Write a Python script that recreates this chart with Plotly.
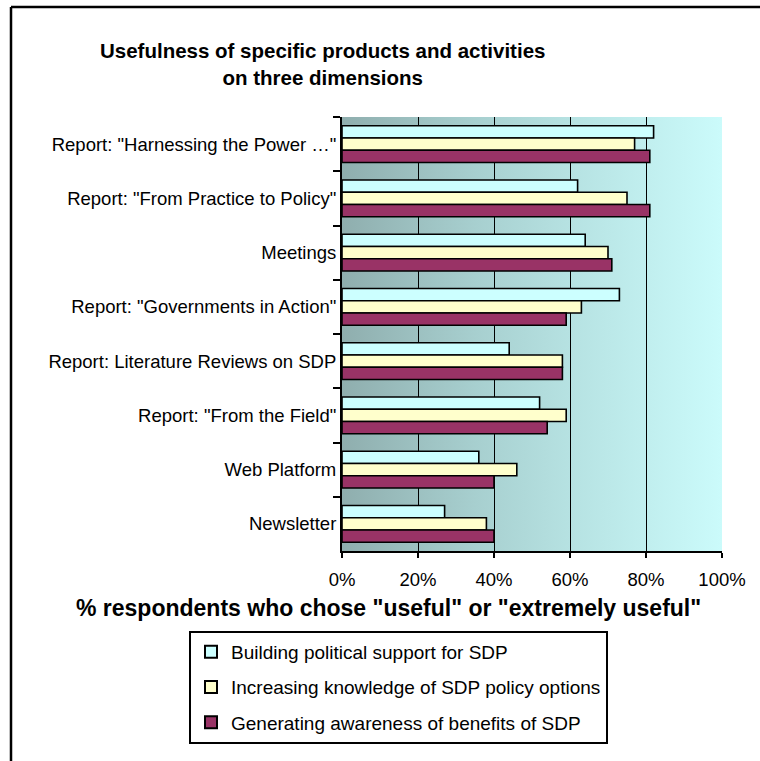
import base64
import plotly.graph_objects as go

# Survey items, listed top to bottom
items = [
    'Report: "Harnessing the Power …"',
    'Report: "From Practice to Policy"',
    "Meetings",
    'Report: "Governments in Action"',
    "Report: Literature Reviews on SDP",
    'Report: "From the Field"',
    "Web Platform",
    "Newsletter",
]

# % of respondents rating each item "useful" or "extremely useful"
political_support = [82, 62, 64, 73, 44, 52, 36, 27]
policy_knowledge = [77, 75, 70, 63, 58, 59, 46, 38]
benefit_awareness = [81, 81, 71, 59, 58, 54, 40, 40]

series_names = [
    "Building political support for SDP",
    "Increasing knowledge of SDP policy options",
    "Generating awareness of benefits of SDP",
]
series_values = [political_support, policy_knowledge, benefit_awareness]
series_colors = ["#CCFFFF", "#FFFFCC", "#993366"]

x_ticks = [0, 20, 40, 60, 80, 100]
x_tick_text = ["0%", "20%", "40%", "60%", "80%", "100%"]

FONT = "Liberation Sans, Arial, Helvetica, sans-serif"

fig = go.Figure()
for i, (name, vals, col) in enumerate(zip(series_names, series_values, series_colors)):
    fig.add_trace(go.Bar(
        y=items, x=vals, name=name, orientation="h",
        marker=dict(color=col, line=dict(color="black", width=1.6)),
        legendgroup=f"g{i}",
    ))

# horizontal gradient behind the bars
svg = (
    '<svg xmlns="http://www.w3.org/2000/svg" width="380" height="434" '
    'preserveAspectRatio="none"><defs><linearGradient id="g" x1="0" y1="0" x2="1" y2="0">'
    '<stop offset="0" stop-color="#8FAEAE"/>'
    '<stop offset="0.35" stop-color="#A7CFCF"/>'
    '<stop offset="0.6" stop-color="#B6E2E2"/>'
    '<stop offset="1" stop-color="#CBFBFB"/>'
    '</linearGradient></defs><rect width="380" height="434" fill="url(#g)"/></svg>'
)
bg_src = "data:image/svg+xml;base64," + base64.b64encode(svg.encode()).decode()

L, R, T, B = 342, 38, 117, 210
W, H = 760, 761
pw, ph = W - L - R, H - T - B


def px(x):
    return (x - L) / pw


def py(y):
    return (H - B - y) / ph


fig.update_layout(
    width=W, height=H,
    margin=dict(l=L, r=R, t=T, b=B),
    paper_bgcolor="white",
    plot_bgcolor="rgba(0,0,0,0)",
    barmode="group",
    bargap=0.32,
    bargroupgap=0,
    font=dict(family=FONT, color="black", size=18),
    showlegend=True,
    legend=dict(
        x=px(189), y=py(631), xanchor="left", yanchor="top",
        bordercolor="black", borderwidth=2, bgcolor="white",
        font=dict(size=19, family=FONT),
        tracegroupgap=7.5,
        itemsizing="constant",
    ),
    images=[dict(
        source=bg_src, xref="x", yref="paper", x=0, y=1, sizex=100, sizey=1,
        sizing="stretch", layer="below", xanchor="left", yanchor="top",
    )],
    xaxis=dict(
        range=[0, 100], tickvals=x_ticks, ticktext=x_tick_text,
        showgrid=True, gridcolor="black", gridwidth=1,
        showline=True, linecolor="black", linewidth=2,
        ticks="outside", ticklen=5, tickcolor="black", tickwidth=2,
        zeroline=False, tickfont=dict(size=18.5), fixedrange=True,
        ticklabelstandoff=6,
    ),
    yaxis=dict(
        autorange="reversed", categoryorder="array", categoryarray=items,
        showline=True, linecolor="black", linewidth=2,
        ticks="outside", ticklen=7, tickcolor="black", tickwidth=2,
        tickson="boundaries", showgrid=False, tickfont=dict(size=18.5),
        fixedrange=True,
    ),
    annotations=[
        dict(
            text="<b>Usefulness of specific products and activities<br>on three dimensions</b>",
            xref="paper", yref="paper", x=px(322), y=py(64), xanchor="center", yanchor="middle",
            showarrow=False, font=dict(size=20.5, family=FONT),
        ),
        dict(
            text='<b>% respondents who chose "useful" or "extremely useful"</b>',
            xref="paper", yref="paper", x=px(388), y=py(608), xanchor="center", yanchor="middle",
            showarrow=False, font=dict(size=23, family=FONT),
        ),
    ],
    shapes=[
        dict(type="line", xref="paper", yref="paper", x0=px(11), x1=px(762), y0=py(7), y1=py(7),
             line=dict(color="black", width=2.5)),
        dict(type="line", xref="paper", yref="paper", x0=px(11), x1=px(11), y0=py(7), y1=py(765),
             line=dict(color="black", width=2.5)),
    ],
)

fig.write_html("out.html")
